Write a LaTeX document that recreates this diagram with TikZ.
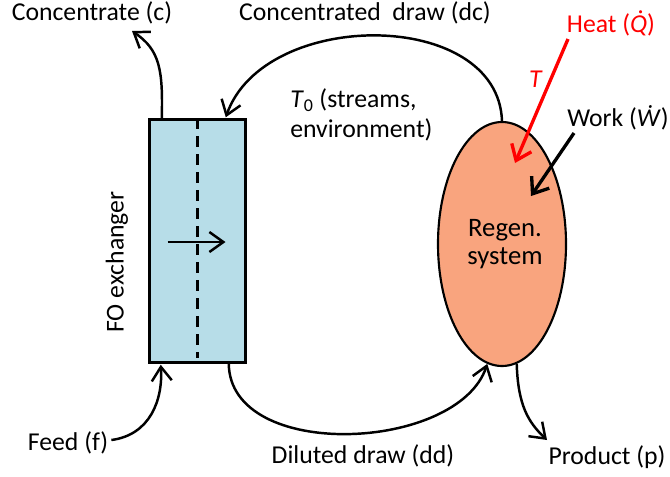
\documentclass[tikz,border=0pt]{standalone}
\usepackage{fontspec}
\setmainfont{Carlito}
\usetikzlibrary{shapes.geometric,arrows.meta,calc}

\definecolor{foblue}{HTML}{B7DDE8}
\definecolor{regensalmon}{HTML}{F9A47E}

\begin{document}
\begin{tikzpicture}[x=0.75pt,y=-0.75pt,
  lbl/.style={font=\fontsize{19.3}{22.5}\selectfont,inner sep=0pt},
  flow/.style={line width=1.85pt,-{Straight Barb[length=10.5pt,width=15pt,line width=1.85pt]}},
  inflow/.style={line width=2.5pt,-{Straight Barb[length=10.5pt,width=16pt,line width=2.5pt]}}]
\useasboundingbox (0,0) rectangle (670,476);

% FO exchanger and regeneration system
\node[draw,line width=2.1pt,fill=foblue,minimum width=72.5pt,minimum height=182pt,inner sep=0pt]
  (fo) at (197.5,241) {};
\draw[line width=1.8pt,dash pattern=on 8.2pt off 5.3pt] (fo.north) -- ($(fo.south)+(0,-6)$);
\draw[flow] ($(fo.center)+(-30,1)$) coordinate (mb) -- ($(fo.center)+(28,1)$) coordinate (me);

\node[draw,line width=1.6pt,fill=regensalmon,ellipse,minimum width=96pt,minimum height=183pt,inner sep=0pt]
  (regen) at (502,244) {};
\node[lbl,align=center,font=\fontsize{20}{21}\selectfont] (regentext) at (505,244) {Regen.\\system};

% labels
\node[lbl] (conc) at (92,13) {Concentrate (c)};
\node[lbl] (cdraw) at (365,13) {Concentrated\ \ draw (dc)};
\node[lbl,text=red] (heat) at (611,23) {Heat (\textit{\accent"02D9 Q})};
\node[lbl,text=red] (tlab) at (536,79) {\textit{T}};
\node[lbl,align=left,anchor=west] (env) at (290,115) {\textit{T}\textsubscript{0} (streams,\\environment)};
\node[lbl] (work) at (618,118) {Work (\textit{Ẇ})};
\node[lbl,rotate=90] (folab) at (117,262) {FO exchanger};
\node[lbl] (feed) at (68,443) {Feed (f)};
\node[lbl] (dil) at (363,456) {Diluted draw (dd)};
\node[lbl] (prod) at (607,457) {Product (p)};

% streams
\coordinate (cstart) at ($(fo.north west)+(14,0)$);
\coordinate (cend) at (132,31);
\draw[flow] (cstart) .. controls (163,70) and (160,50) .. (cend);

\coordinate (dcstart) at (regen.north);
\coordinate (dcend) at ($(fo.north west)+(78,-1)$);
\draw[flow] (dcstart) .. controls (498,8) and (264,8) .. (dcend);

\coordinate (fstart) at ($(feed.east)+(3,-3)$);
\coordinate (fend) at ($(fo.south west)+(13,1)$);
\draw[flow] (fstart) .. controls (150,435) and (163,400) .. (fend);

\coordinate (ddstart) at ($(fo.south west)+(81,0)$);
\coordinate (ddend) at (regen.-97);
\draw[flow] (ddstart) .. controls (230,462) and (458,452) .. (ddend);

\coordinate (pstart) at (regen.-83);
\coordinate (pend) at (547,440);
\draw[flow] (pstart) .. controls (518,405) and (528,422) .. (pend);

% heat and work inputs
\coordinate (hstart) at (568,39);
\coordinate (hend) at (515,163);
\draw[inflow,red] (hstart) -- (hend);
\coordinate (wstart) at (574,133);
\coordinate (wend) at (531,196);
\draw[inflow] (wstart) -- (wend);
\end{tikzpicture}
\end{document}
